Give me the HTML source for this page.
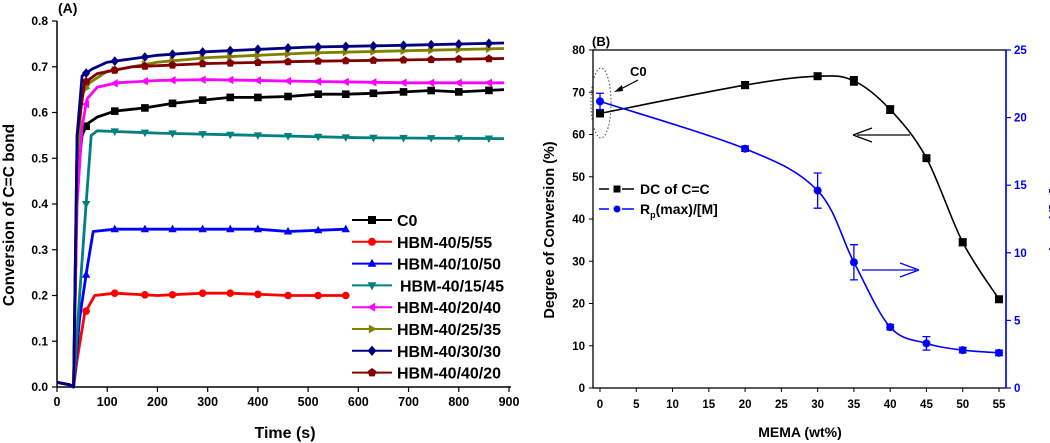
<!DOCTYPE html>
<html><head><meta charset="utf-8">
<style>
html,body{margin:0;padding:0;background:#fff;}
svg{display:block;font-family:"Liberation Sans",Arial,sans-serif;font-weight:bold;}
</style></head>
<body>
<svg id="fig" width="1050" height="443" viewBox="0 0 1050 443" xmlns="http://www.w3.org/2000/svg">
<g id="chartA"></g>
<g id="chartB"></g>
</svg>
<script>
// ---------- Chart A data ----------
const aSeriesNames = ["C0","HBM-40/5/55","HBM-40/10/50","HBM-40/15/45","HBM-40/20/40","HBM-40/25/35","HBM-40/30/30","HBM-40/40/20"];
const aColors = ["#000000","#ff0000","#0000ff","#008080","#ff00ff","#808000","#000080","#800000"];
const aMarkers = ["square","circle","triangle-up","triangle-down","triangle-left","triangle-right","diamond","pentagon"];
const aC0 = [[0,0.01],[25,0.005],[33,0],[40,0.45],[50,0.55],[60,0.575],[80,0.59],[115,0.603],[175,0.61],[230,0.62],[290,0.627],[345,0.633],[400,0.633],[460,0.635],[520,0.64],[575,0.64],[630,0.642],[690,0.645],[745,0.648],[800,0.645],[890,0.65]];
const aS5 = [[0,0.01],[25,0.005],[33,0],[40,0.06],[55,0.16],[65,0.18],[75,0.2],[115,0.205],[200,0.2],[290,0.205],[345,0.205],[460,0.2],[575,0.2]];
const aS10 = [[0,0.01],[25,0.005],[33,0],[45,0.15],[60,0.26],[72,0.34],[115,0.345],[230,0.345],[400,0.345],[460,0.34],[575,0.345]];
const aS15 = [[0,0.01],[25,0.005],[33,0],[45,0.2],[58,0.4],[68,0.55],[80,0.56],[200,0.555],[400,0.55],[600,0.545],[890,0.543]];
const aS20 = [[0,0.01],[25,0.005],[33,0],[40,0.4],[50,0.57],[60,0.63],[80,0.655],[120,0.665],[200,0.67],[300,0.672],[500,0.668],[700,0.665],[890,0.665]];
const aS25 = [[0,0.01],[25,0.005],[33,0],[40,0.5],[50,0.64],[65,0.665],[100,0.69],[200,0.71],[300,0.72],[500,0.73],[700,0.735],[890,0.74]];
const aS30 = [[0,0.01],[25,0.005],[33,0],[40,0.55],[50,0.68],[70,0.695],[100,0.71],[200,0.725],[300,0.733],[500,0.743],[700,0.747],[890,0.752]];
const aS40 = [[0,0.01],[25,0.005],[33,0],[40,0.55],[55,0.665],[80,0.685],[150,0.7],[300,0.707],[500,0.712],[700,0.715],[890,0.718]];
const aMarkerTimes = [58,115,175,230,290,345,400,460,520,575,630,690,745,800,860];
const aXTicks = [0,100,200,300,400,500,600,700,800,900];
const aYTicks = [0,0.1,0.2,0.3,0.4,0.5,0.6,0.7,0.8];
const aYTickLabels = ["0.0","0.1","0.2","0.3","0.4","0.5","0.6","0.7","0.8"];

// ---------- Chart B data ----------
const bX = [0,20,30,35,40,45,50,55];
const bDC = [65,71.7,73.8,72.7,65.9,54.4,34.5,21];
const bDCErr = [0.8,0.8,0.6,1.0,0.9,0.5,0.8,0.6];
const bRp = [21.2,17.7,14.6,9.3,4.5,3.3,2.8,2.6];
const bRpErr = [0.6,0.2,1.3,1.3,0.2,0.5,0.2,0.2];
const bXTicks = [0,5,10,15,20,25,30,35,40,45,50,55];
const bYLTicks = [0,10,20,30,40,50,60,70,80];
const bYRTicks = [0,5,10,15,20,25];

const NS = "http://www.w3.org/2000/svg";
function mk(parent, tag, attrs, text){
  const e = document.createElementNS(NS, tag);
  for (const k in attrs) e.setAttribute(k, attrs[k]);
  if (text !== undefined) e.textContent = text;
  parent.appendChild(e);
  return e;
}
function markerPath(type, x, y, s){
  switch(type){
    case "square": return `M${x-s},${y-s}h${2*s}v${2*s}h${-2*s}z`;
    case "circle": return `M${x-s},${y}a${s},${s} 0 1,0 ${2*s},0a${s},${s} 0 1,0 ${-2*s},0z`;
    case "triangle-up": return `M${x},${y-s*1.2}L${x+s*1.1},${y+s*0.8}L${x-s*1.1},${y+s*0.8}z`;
    case "triangle-down": return `M${x},${y+s*1.2}L${x+s*1.1},${y-s*0.8}L${x-s*1.1},${y-s*0.8}z`;
    case "triangle-left": return `M${x-s*1.2},${y}L${x+s*0.8},${y-s*1.1}L${x+s*0.8},${y+s*1.1}z`;
    case "triangle-right": return `M${x+s*1.2},${y}L${x-s*0.8},${y-s*1.1}L${x-s*0.8},${y+s*1.1}z`;
    case "diamond": return `M${x},${y-s*1.3}L${x+s*1.1},${y}L${x},${y+s*1.3}L${x-s*1.1},${y}z`;
    default: { let p=""; for(let i=0;i<5;i++){const a=-Math.PI/2+i*2*Math.PI/5; p+=(i?"L":"M")+(x+s*1.15*Math.cos(a))+","+(y+s*1.15*Math.sin(a));} return p+"z"; }
  }
}
function interp(pts, t){
  if (t <= pts[0][0]) return pts[0][1];
  for (let i=1;i<pts.length;i++){
    if (t <= pts[i][0]){ const [t0,v0]=pts[i-1],[t1,v1]=pts[i]; return v0+(v1-v0)*(t-t0)/(t1-t0); }
  }
  return null;
}

// ---------- Chart A ----------
(function(){
  const g = document.getElementById("chartA");
  const X0=57, X1=509, Y0=387, Y1=21;
  const xs = t => X0 + (t/900)*(X1-X0);
  const ys = v => Y0 - (v/0.8)*(Y0-Y1);
  const axes = mk(g,"g",{});
  
  
  mk(axes,"line",{x1:X0,y1:Y1,x2:X0,y2:Y0,stroke:"#000","stroke-width":1.5});
  mk(axes,"line",{x1:X0,y1:Y0,x2:X1+2,y2:Y0,stroke:"#000","stroke-width":1.5});
  aXTicks.forEach(t=>{
    mk(axes,"line",{x1:xs(t),y1:Y0,x2:xs(t),y2:Y0+5,stroke:"#000","stroke-width":1.2});
    const l = mk(axes,"text",{x:xs(t),y:Y0+19,"text-anchor":"middle","font-size":12.5},String(t));
    
    
  });
  aYTicks.forEach((v,i)=>{
    mk(axes,"line",{x1:X0-5,y1:ys(v),x2:X0,y2:ys(v),stroke:"#000","stroke-width":1.2});
    const l = mk(axes,"text",{x:X0-9,y:ys(v)+4,"text-anchor":"end","font-size":12},aYTickLabels[i]);
    
    
  });
  const xt = mk(g,"text",{x:285,y:438,"text-anchor":"middle","font-size":16},"Time (s)");
  
  
  const yt = mk(g,"text",{x:0,y:0,"text-anchor":"middle","font-size":15.5,transform:"translate(14,215) rotate(-90)"},"Conversion of C=C bond");
  
  
  const pl = mk(g,"text",{x:58,y:13,"font-size":14},"(A)");
  
  

  const series = [aC0,aS5,aS10,aS15,aS20,aS25,aS30,aS40];
  const order = [1,2,3,0,4,5,7,6];
  order.forEach(i=>{
    const pts = series[i];
    const sg = mk(g,"g",{});
    
    
    const d = pts.map((p,k)=>(k?"L":"M")+xs(p[0]).toFixed(1)+","+ys(p[1]).toFixed(1)).join("");
    mk(sg,"path",{d:d,fill:"none",stroke:aColors[i],"stroke-width":2.8,"stroke-linejoin":"round"});
    aMarkerTimes.forEach(t=>{
      const v = interp(pts,t);
      if (v===null) return;
      const m = mk(sg,"path",{d:markerPath(aMarkers[i],xs(t),ys(v),3.8),fill:aColors[i]});
      
      
    });
  });
  const lg = mk(g,"g",{});
  
  
  aSeriesNames.forEach((n,i)=>{
    const y = 220 + i*21.8;
    const e = mk(lg,"g",{});
    
    
    mk(e,"line",{x1:352,y1:y,x2:392,y2:y,stroke:aColors[i],"stroke-width":2});
    mk(e,"path",{d:markerPath(aMarkers[i],372,y,4),fill:aColors[i]});
    mk(e,"text",{x:i===3?400:397,y:y+6,"font-size":16},n);
  });
})();

// ---------- Chart B ----------
(function(){
  const g = document.getElementById("chartB");
  const BL=593, BR=1006, BT=50, BB=388;
  const X0=600, X1=999;
  const xs = v => X0 + (v/55)*(X1-X0);
  const yl = v => BB - (v/80)*(BB-BT);
  const yr = v => BB - (v/25)*(BB-BT);
  const axes = mk(g,"g",{});
  
  
  mk(axes,"rect",{x:BL,y:BT,width:BR-BL,height:BB-BT,fill:"none",stroke:"#000","stroke-width":1.3});
  mk(axes,"line",{x1:BR,y1:BT,x2:BR,y2:BB,stroke:"#0000ff","stroke-width":1.5});
  bXTicks.forEach(t=>{
    mk(axes,"line",{x1:xs(t),y1:BB,x2:xs(t),y2:BB+4,stroke:"#000","stroke-width":1});
    const l = mk(axes,"text",{x:xs(t),y:BB+20,"text-anchor":"middle","font-size":11.5},String(t));
    
    
  });
  bYLTicks.forEach(v=>{
    mk(axes,"line",{x1:BL-4,y1:yl(v),x2:BL,y2:yl(v),stroke:"#000","stroke-width":1});
    const l = mk(axes,"text",{x:BL-8,y:yl(v)+4,"text-anchor":"end","font-size":11.5},String(v));
    
    
  });
  bYRTicks.forEach(v=>{
    mk(axes,"line",{x1:BR,y1:yr(v),x2:BR+5,y2:yr(v),stroke:"#0000ff","stroke-width":1.2});
    const l = mk(axes,"text",{x:BR+8,y:yr(v)+4,"font-size":11.5,fill:"#0000ff"},String(v));
    
    
  });
  const xt = mk(g,"text",{x:800,y:437,"text-anchor":"middle","font-size":14},"MEMA (wt%)");
  
  
  const yt = mk(g,"text",{x:0,y:0,"text-anchor":"middle","font-size":14.5,transform:"translate(554,230) rotate(-90)"},"Degree of Conversion (%)");
  
  
  const yr2 = mk(g,"text",{x:0,y:0,"text-anchor":"middle","font-size":14.5,fill:"#0000ff",transform:"translate(1060,230) rotate(-90)"},"Rp(max)/[M]");
  
  
  const pl = mk(g,"text",{x:592,y:46,"font-size":13},"(B)");
  
  

  function smooth(px){
    let d = `M${px[0][0]},${px[0][1]}`;
    for (let i=0;i<px.length-1;i++){
      const p0=px[Math.max(0,i-1)], p1=px[i], p2=px[i+1], p3=px[Math.min(px.length-1,i+2)];
      const c1x=p1[0]+(p2[0]-p0[0])/6, c1y=p1[1]+(p2[1]-p0[1])/6;
      const c2x=p2[0]-(p3[0]-p1[0])/6, c2y=p2[1]-(p3[1]-p1[1])/6;
      d += `C${c1x.toFixed(1)},${c1y.toFixed(1)} ${c2x.toFixed(1)},${c2y.toFixed(1)} ${p2[0].toFixed(1)},${p2[1].toFixed(1)}`;
    }
    return d;
  }
  function drawSeries(name, vals, errs, yfn, color, marker){
    const sg = mk(g,"g",{});
    
    
    const px = bX.map((x,i)=>[xs(x), yfn(vals[i])]);
    mk(sg,"path",{d:smooth(px),fill:"none",stroke:color,"stroke-width":1.6});
    bX.forEach((x,i)=>{
      const cx=xs(x), t=yfn(vals[i]+errs[i]), b=yfn(vals[i]-errs[i]);
      mk(sg,"path",{d:`M${cx},${t}V${b}M${cx-4},${t}H${cx+4}M${cx-4},${b}H${cx+4}`,stroke:color,"stroke-width":1.3,fill:"none"});
      const m = mk(sg,"path",{d:markerPath(marker,cx,yfn(vals[i]),4),fill:color});
      
      
    });
  }
  drawSeries("series-dc", bDC, bDCErr, yl, "#000", "square");
  drawSeries("series-rp", bRp, bRpErr, yr, "#0000ff", "circle");

  const ann = mk(g,"g",{});
  
  
  mk(ann,"ellipse",{cx:601,cy:103,rx:10,ry:35,fill:"none",stroke:"#444","stroke-width":1,"stroke-dasharray":"1.5,2"});
  mk(ann,"text",{x:630,y:76,"font-size":13},"C0");
  mk(ann,"path",{d:"M638,80L617,91",stroke:"#000","stroke-width":1.2,fill:"none"});
  mk(ann,"path",{d:"M614,92L622,85L623,91z",fill:"#000"});
  const a1 = mk(g,"g",{});
  
  
  mk(a1,"path",{d:"M910,135H857",stroke:"#000","stroke-width":1.3});
  mk(a1,"path",{d:"M853,135L872,128M853,135L872,142",stroke:"#000","stroke-width":1.3,fill:"none"});
  const a2 = mk(g,"g",{});
  
  
  mk(a2,"path",{d:"M862,270H916",stroke:"#0000ff","stroke-width":1.3});
  mk(a2,"path",{d:"M919,270L900,263M919,270L900,277",stroke:"#0000ff","stroke-width":1.3,fill:"none"});

  const lg = mk(g,"g",{});
  
  
  const e1 = mk(lg,"g",{});
  
  
  mk(e1,"path",{d:"M599,189H609M622,189H634",stroke:"#000","stroke-width":1.5});
  mk(e1,"path",{d:markerPath("square",617,189,3.5),fill:"#000"});
  mk(e1,"text",{x:640,y:194,"font-size":14},"DC of C=C");
  const e2 = mk(lg,"g",{});
  
  
  mk(e2,"path",{d:"M599,209H609M622,209H634",stroke:"#0000ff","stroke-width":1.5});
  mk(e2,"path",{d:markerPath("circle",617,209,3.5),fill:"#0000ff"});
  const t2 = mk(e2,"text",{x:640,y:214,"font-size":14});
  t2.appendChild(document.createTextNode("R"));
  mk(t2,"tspan",{"font-size":9,dy:4},"p");
  mk(t2,"tspan",{dy:-4},"(max)/[M]");
})();
</script>
</body></html>
